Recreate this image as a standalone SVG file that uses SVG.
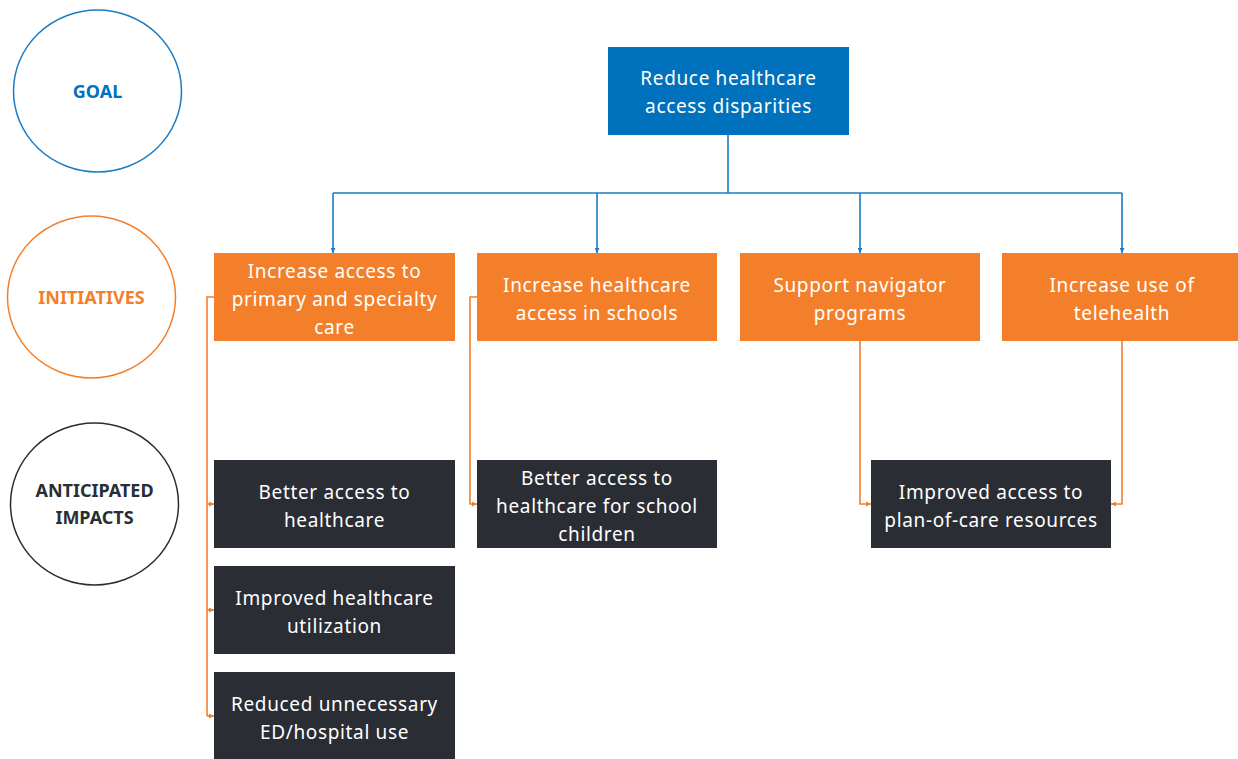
<svg xmlns="http://www.w3.org/2000/svg" width="1238" height="759" viewBox="0 0 1238 759">
  <style>
    .lbl { font-family: "Noto Sans", "Open Sans", sans-serif; font-size: 19px; letter-spacing: 0.65px; fill: #ffffff; text-anchor: middle; }
    .tier { font-family: "Noto Sans", "Open Sans", sans-serif; font-size: 18px; font-weight: bold; text-anchor: middle; }
    .goal { fill: #0071bc; }
    .init { fill: #f47f2a; }
    .imp { fill: #2a2d34; }
    .blue { stroke: #1a7cc4; stroke-width: 1.6; fill: none; }
    .orange { stroke: #f47f2a; stroke-width: 1.6; fill: none; }
  </style>
  <defs>
    <marker id="arrB" viewBox="0 0 6 6" refX="6" refY="3" markerWidth="5" markerHeight="5" orient="auto" markerUnits="userSpaceOnUse">
      <path d="M0,0 L6,3 L0,6 Z" fill="#1a7cc4"/>
    </marker>
    <marker id="arrO" viewBox="0 0 6 6" refX="6" refY="3" markerWidth="5" markerHeight="5" orient="auto" markerUnits="userSpaceOnUse">
      <path d="M0,0 L6,3 L0,6 Z" fill="#f47f2a"/>
    </marker>
  </defs>
  <rect width="1238" height="759" fill="#ffffff"/>

  <!-- tier labels -->
  <g id="tier-goal">
    <ellipse cx="97.5" cy="91" rx="84" ry="81" fill="none" stroke="#1a7cc4" stroke-width="1.5"/>
    <text class="tier" x="97.5" y="97.5" fill="#0071bc">GOAL</text>
  </g>
  <g id="tier-initiatives">
    <ellipse cx="91.5" cy="297" rx="84" ry="81" fill="none" stroke="#f47f2a" stroke-width="1.5"/>
    <text class="tier" x="91.5" y="303.5" fill="#f47f2a">INITIATIVES</text>
  </g>
  <g id="tier-impacts">
    <ellipse cx="94.5" cy="504" rx="84" ry="81" fill="none" stroke="#2a2d34" stroke-width="1.5"/>
    <text class="tier" x="94.5" y="497" fill="#2a2d34">ANTICIPATED</text>
    <text class="tier" x="94.5" y="524" fill="#2a2d34">IMPACTS</text>
  </g>

  <!-- connectors -->
  <g id="connectors">
    <path class="blue" d="M728,134 V193 M333,193 H1122"/>
    <path class="blue" d="M333,193 V253" marker-end="url(#arrB)"/>
    <path class="blue" d="M597,193 V253" marker-end="url(#arrB)"/>
    <path class="blue" d="M860,193 V253" marker-end="url(#arrB)"/>
    <path class="blue" d="M1122,193 V253" marker-end="url(#arrB)"/>

    <path class="orange" d="M214,297 H207 V716"/>
    <path class="orange" d="M207,504 H214" marker-end="url(#arrO)"/>
    <path class="orange" d="M207,610 H214" marker-end="url(#arrO)"/>
    <path class="orange" d="M207,716 H214" marker-end="url(#arrO)"/>

    <path class="orange" d="M477,297 H470 V504 H477" marker-end="url(#arrO)"/>
    <path class="orange" d="M860,341 V504 H871" marker-end="url(#arrO)"/>
    <path class="orange" d="M1122,341 V504 H1111" marker-end="url(#arrO)"/>
  </g>

  <!-- goal -->
  <g id="goal">
    <rect class="goal" x="608" y="47" width="241" height="88"/>
    <text class="lbl" x="728.5" y="84.5">Reduce healthcare</text>
    <text class="lbl" x="728.5" y="112.5">access disparities</text>
  </g>

  <!-- initiatives -->
  <g id="init-primary">
    <rect class="init" x="214" y="253" width="241" height="88"/>
    <text class="lbl" x="334.5" y="277.5">Increase access to</text>
    <text class="lbl" x="334.5" y="305.5">primary and specialty</text>
    <text class="lbl" x="334.5" y="333.5">care</text>
  </g>
  <g id="init-schools">
    <rect class="init" x="477" y="253" width="240" height="88"/>
    <text class="lbl" x="597" y="291.5">Increase healthcare</text>
    <text class="lbl" x="597" y="319.5">access in schools</text>
  </g>
  <g id="init-navigator">
    <rect class="init" x="740" y="253" width="240" height="88"/>
    <text class="lbl" x="860" y="291.5">Support navigator</text>
    <text class="lbl" x="860" y="319.5">programs</text>
  </g>
  <g id="init-telehealth">
    <rect class="init" x="1002" y="253" width="236" height="88"/>
    <text class="lbl" x="1122" y="291.5">Increase use of</text>
    <text class="lbl" x="1122" y="319.5">telehealth</text>
  </g>

  <!-- anticipated impacts -->
  <g id="imp-access">
    <rect class="imp" x="214" y="460" width="241" height="88"/>
    <text class="lbl" x="334.5" y="498.5">Better access to</text>
    <text class="lbl" x="334.5" y="526.5">healthcare</text>
  </g>
  <g id="imp-utilization">
    <rect class="imp" x="214" y="566" width="241" height="88"/>
    <text class="lbl" x="334.5" y="604.5">Improved healthcare</text>
    <text class="lbl" x="334.5" y="632.5">utilization</text>
  </g>
  <g id="imp-ed">
    <rect class="imp" x="214" y="672" width="241" height="88"/>
    <text class="lbl" x="334.5" y="710.5">Reduced unnecessary</text>
    <text class="lbl" x="334.5" y="738.5">ED/hospital use</text>
  </g>
  <g id="imp-school">
    <rect class="imp" x="477" y="460" width="240" height="88"/>
    <text class="lbl" x="597" y="484.5">Better access to</text>
    <text class="lbl" x="597" y="512.5">healthcare for school</text>
    <text class="lbl" x="597" y="540.5">children</text>
  </g>
  <g id="imp-plan">
    <rect class="imp" x="871" y="460" width="240" height="88"/>
    <text class="lbl" x="991" y="498.5">Improved access to</text>
    <text class="lbl" x="991" y="526.5">plan-of-care resources</text>
  </g>
</svg>
